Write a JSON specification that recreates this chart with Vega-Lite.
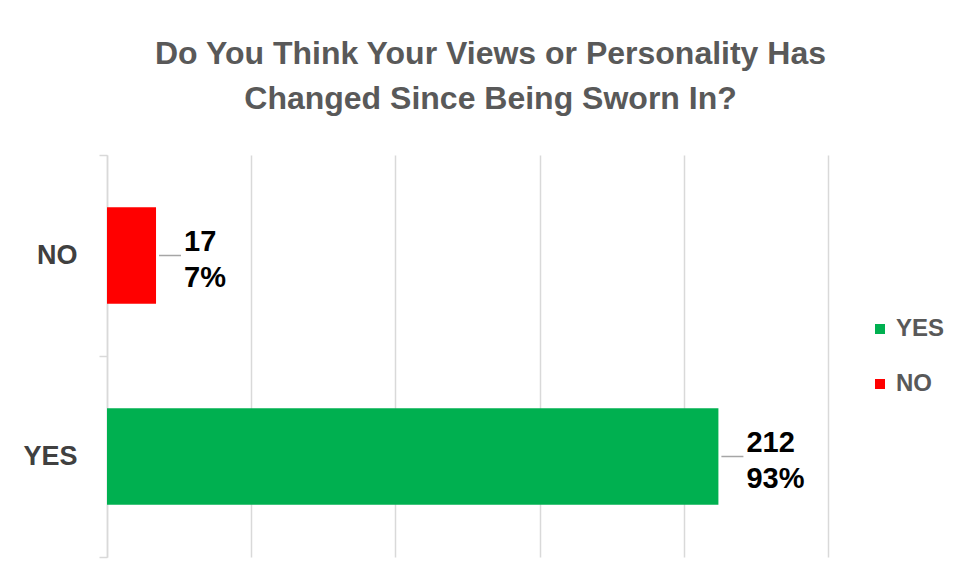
{
  "$schema": "https://vega.github.io/schema/vega-lite/v6.json",
  "width": 721,
  "height": 402,
  "autosize": "none",
  "padding": {"left": 107, "top": 155, "right": 129, "bottom": 23},
  "background": "white",
  "config": {"view": {"stroke": null}},
  "title": {
    "text": ["Do You Think Your Views or Personality Has", "Changed Since Being Sworn In?"],
    "font": "Liberation Sans",
    "fontSize": 32,
    "fontWeight": "bold",
    "color": "#595959",
    "anchor": "middle",
    "dx": 23,
    "offset": 25,
    "lineHeight": 45
  },
  "data": {
    "values": [
      {"answer": "YES", "count": 212, "label": "212\n93%"},
      {"answer": "NO", "count": 17, "label": "17\n7%"}
    ]
  },
  "encoding": {
    "y": {
      "field": "answer",
      "type": "nominal",
      "sort": ["NO", "YES"],
      "scale": {"paddingInner": 0, "paddingOuter": 0},
      "axis": {
        "title": null,
        "domain": true,
        "domainColor": "#d9d9d9",
        "domainWidth": 1.5,
        "ticks": true,
        "tickColor": "#d9d9d9",
        "tickWidth": 1.5,
        "tickSize": 8,
        "tickBand": "extent",
        "labelFont": "Liberation Sans",
        "labelFontSize": 27,
        "labelFontWeight": "bold",
        "labelColor": "#404040",
        "labelPadding": 22,
        "grid": false
      }
    }
  },
  "layer": [
    {
      "mark": {"type": "bar", "height": {"band": 0.48}},
      "encoding": {
        "x": {
          "field": "count",
          "type": "quantitative",
          "scale": {"domain": [0, 250], "nice": false},
          "axis": {
            "values": [0, 50, 100, 150, 200, 250],
            "grid": true,
            "gridColor": "#d9d9d9",
            "gridWidth": 1.5,
            "domain": false,
            "ticks": false,
            "labels": false,
            "title": null
          }
        },
        "color": {
          "field": "answer",
          "type": "nominal",
          "scale": {"domain": ["YES", "NO"], "range": ["#00B050", "#FF0000"]},
          "legend": {
            "title": null,
            "orient": "none",
            "legendX": 761,
            "legendY": 162,
            "symbolType": "square",
            "symbolSize": 100,
            "symbolStrokeWidth": 0,
            "symbolOpacity": 1,
            "labelFont": "Liberation Sans",
            "labelFontSize": 24,
            "labelFontWeight": "bold",
            "labelColor": "#595959",
            "labelOffset": 4,
            "rowPadding": 31
          }
        }
      }
    },
    {
      "mark": {"type": "rule", "color": "#a6a6a6", "strokeWidth": 1.5, "xOffset": 3, "x2Offset": 25},
      "encoding": {
        "x": {"field": "count", "type": "quantitative"},
        "x2": {"field": "count"}
      }
    },
    {
      "mark": {
        "type": "text",
        "align": "left",
        "dx": 28,
        "dy": -14,
        "baseline": "middle",
        "font": "Liberation Sans",
        "fontSize": 29,
        "fontWeight": "bold",
        "color": "#000000",
        "lineHeight": 36,
        "lineBreak": "\n"
      },
      "encoding": {
        "x": {"field": "count", "type": "quantitative"},
        "text": {"field": "label"}
      }
    }
  ]
}
